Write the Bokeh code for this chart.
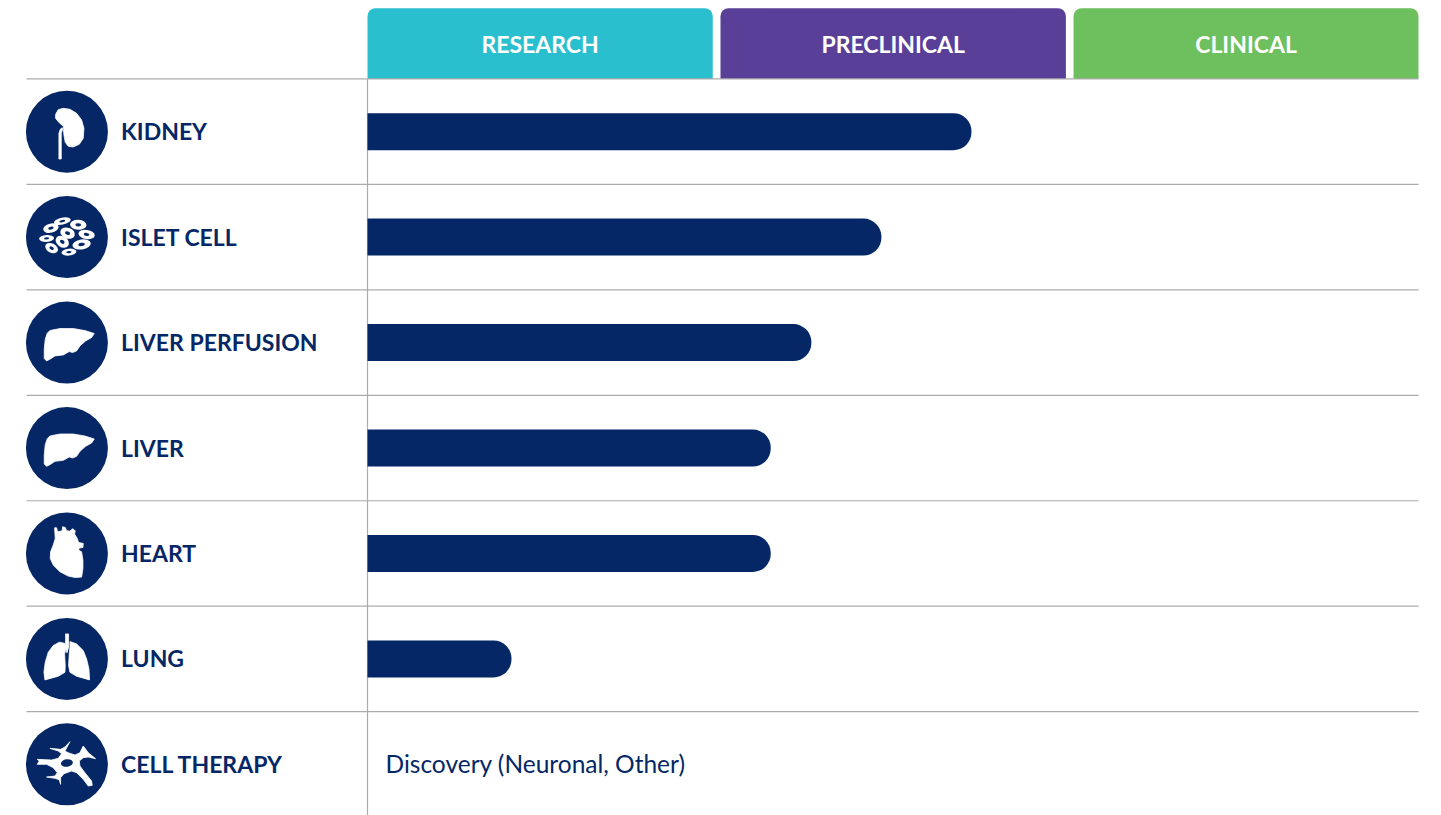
from bokeh.plotting import figure
from bokeh.models import Range1d
from bokeh.core.properties import value
from bokeh.embed import file_html
from bokeh.resources import INLINE

# ---- data ----
stages = ["RESEARCH", "PRECLINICAL", "CLINICAL"]
stage_colors = ["#2ABFCF", "#5A3F99", "#6EBF5E"]
stage_left = [0.0, 1.0076, 2.0153]
stage_right = [0.9855, 1.9935, 3.0]
organs = ["KIDNEY", "ISLET CELL", "LIVER PERFUSION", "LIVER", "HEART", "LUNG", "CELL THERAPY"]
progress = [1.724, 1.467, 1.267, 1.151, 1.151, 0.411, 0.0]   # in stage widths
note = "Discovery (Neuronal, Other)"

NAVY = "#052766"
RULE = "#ABABAB"
FONT = "Lato"

W, H = 1441, 815
X_UNIT = 350.33   # pixels per stage
Y_UNIT = 105.45   # pixels per row
xr = Range1d(-1.0476, -1.0476 + W / X_UNIT)
yr = Range1d(-0.485, -0.485 + H / Y_UNIT)

p = figure(width=W, height=H, x_range=xr, y_range=yr, output_backend="svg",
           toolbar_location=None, min_border=0, outline_line_color=None)
p.axis.visible = False
p.grid.visible = False
p.background_fill_color = "white"
p.border_fill_color = "white"

n = len(organs)
ys = [n - 1 - i for i in range(n)]
LEFT_EDGE = -0.9734      # page x=26
ICON_X = -0.858          # page x=66.5
LABEL_X = -0.7034        # page x=120.5
RIGHT_EDGE = 3.0
HEAD_TOP = n - 0.5 + 70.8 / Y_UNIT

# stage tabs
p.quad(left=stage_left, right=stage_right,
       top=[HEAD_TOP] * 3, bottom=[n - 0.5] * 3, fill_color=stage_colors, line_color=None,
       border_radius=(8, 8, 0, 0))
p.text(x=[(a + b) / 2 for a, b in zip(stage_left, stage_right)], y=[n - 0.5 + 35 / Y_UNIT] * 3,
       text=stages, text_color="white", text_font=value(FONT), text_font_style="bold",
       text_font_size="23px", text_align="center", text_baseline="middle")

# rules
rule_y = [n - 0.5 - i for i in range(n)]
p.segment(x0=[LEFT_EDGE] * n, x1=[RIGHT_EDGE] * n, y0=rule_y, y1=rule_y,
          line_color=RULE, line_width=1.2)
p.segment(x0=[0], x1=[0], y0=[n - 0.5], y1=[yr.start], line_color=RULE, line_width=1.2)

# bars
bar_y = [y for y, v in zip(ys, progress) if v > 0]
bar_v = [v for v in progress if v > 0]
p.hbar(y=bar_y, left=0, right=bar_v, height=37 / Y_UNIT, fill_color=NAVY, line_color=None,
       border_radius=(0, 18, 18, 0))

p.text(x=[18 / X_UNIT], y=[ys[-1] + 1 / Y_UNIT], text=[note], text_color=NAVY, text_font=value(FONT),
       text_font_size="24.5px", text_baseline="middle")

# row labels and icon discs
p.text(x=[LABEL_X] * n, y=[y + 0.5 / Y_UNIT for y in ys], text=organs, text_color=NAVY,
       text_font=value(FONT), text_font_style="bold", text_font_size="23px", text_baseline="middle")
p.scatter(x=[ICON_X] * n, y=ys, size=82, marker="circle", fill_color=NAVY, line_color=None)

# icon outlines, traced at 3x around the disc centre (141, 140)
kidney = [(131,125),(115,110),(107,100),(107,88),(115,74),(130,70),(150,73),(170,85),(185,105),
          (192,130),(190,160),(178,178),(160,186),(145,184),(136,172),(132,150),(131,138)]
ureter = [(117,222),(117,145),(121,133),(127,128),(128,133),(124,145),(124,222)]
liver = [(90,104),(120,98),(160,98),(195,104),(223,113),(215,125),(197,135),(180,150),(170,165),
         (158,170),(148,167),(130,177),(105,180),(90,190),(80,195),(73,188),(73,160),(76,130),(82,112)]
heart = [(104,63),(110,63),(113,75),(127,72),(128,60),(136,62),(140,72),(150,73),(158,66),(166,72),
         (164,82),(172,95),(176,107),(190,110),(189,122),(178,124),(176,130),(185,135),(189,160),
         (189,185),(185,211),(165,212),(145,208),(120,195),(100,175),(91,155),(92,135),(100,115),(106,95)]
lung_l = [(134,93),(138,110),(134,125),(136,160),(135,180),(115,192),(75,203),(72,180),(76,150),
          (85,120),(100,100),(118,90)]
lung_r = [(150,88),(170,95),(190,115),(200,140),(207,170),(209,203),(170,192),(150,180),(146,160),
          (148,125),(150,105)]
trachea = [(137,65),(146,65),(146,105),(141,122),(137,105)]
neuron = [(150,72),(135,88),(122,95),(90,92),(115,100),(125,108),(115,122),(95,127),(52,125),(58,130),
          (52,140),(80,140),(100,150),(112,165),(105,175),(80,178),(105,182),(118,186),(122,200),
          (122,180),(132,168),(155,160),(170,165),(190,185),(205,205),(217,203),(215,190),(195,165),
          (180,145),(178,130),(190,120),(205,118),(227,123),(205,105),(190,85),(180,105),(165,112),
          (145,105),(135,100)]
icons = [(0, kidney), (0, ureter), (2, liver), (3, liver), (4, heart),
         (5, lung_l), (5, lung_r), (5, trachea), (6, neuron)]

def to_x(pts):
    return [ICON_X + (a - 141) / 3 / X_UNIT for a, _ in pts]

def to_y(row, pts):
    return [ys[row] - (b - 140) / 3 / Y_UNIT for _, b in pts]

p.patches(xs=[to_x(s) for _, s in icons], ys=[to_y(r, s) for r, s in icons],
          fill_color="white", line_color="white", line_width=0.8, line_join="round")

# islet cells: centre x, centre y, width, height, angle (traced at 3x)
islets = [(127,92,48,18,0.2),(175,103,46,26,-0.05),(93,113,44,24,0.25),(143,128,42,28,-0.35),
          (200,132,46,24,-0.15),(80,144,42,18,0.05),(127,154,40,28,-0.6),(185,162,52,26,0.15),
          (95,173,38,24,-0.5),(147,185,42,18,0.1)]
ix = [ICON_X + (c[0] - 141) / 3 / X_UNIT for c in islets]
iy = [ys[1] - (c[1] - 140) / 3 / Y_UNIT for c in islets]
ang = [c[4] for c in islets]
p.ellipse(x=ix, y=iy, width=[c[2] / 2.8 for c in islets], height=[c[3] / 2.6 for c in islets], angle=ang,
          width_units="screen", height_units="screen", fill_color="white", line_color=None)
p.ellipse(x=ix, y=iy, width=[c[2] / 8 for c in islets], height=[c[3] / 8 for c in islets], angle=ang,
          width_units="screen", height_units="screen", fill_color=NAVY, line_color=None)
# neuron nucleus
p.ellipse(x=[ICON_X], y=[ys[6] + 4 / 3 / Y_UNIT], width=[12], height=[7.5], angle=[0.15],
          width_units="screen", height_units="screen", fill_color=NAVY, line_color=None)

open("out.html", "w").write(file_html(p, INLINE))
